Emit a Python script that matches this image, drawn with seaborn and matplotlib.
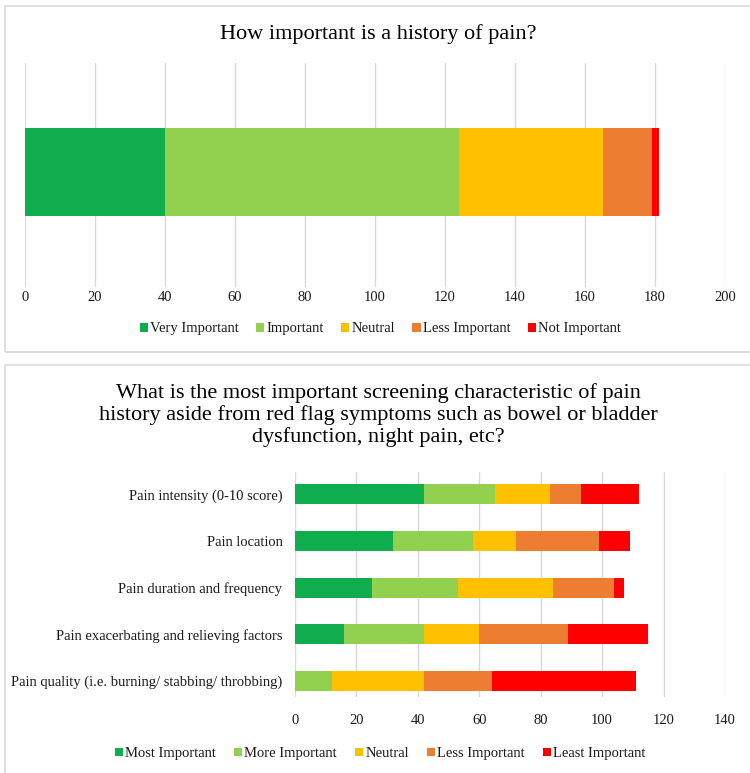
import numpy as np
import pandas as pd
import matplotlib
matplotlib.use("Agg")
import matplotlib.pyplot as plt
from matplotlib.patches import Patch, Rectangle
import seaborn as sns


# Top chart data: one stacked bar
HISTORY_LEVELS = ["Very Important", "Important", "Neutral", "Less Important", "Not Important"]
HISTORY_VALUES = [40, 84, 41, 14, 2]
HISTORY_ROW = ["History of pain"]

# Bottom chart data: five stacked bars
TRAIT_ROWS = [
    "Pain intensity (0-10 score)",
    "Pain location",
    "Pain duration and frequency",
    "Pain exacerbating and relieving factors",
    "Pain quality (i.e. burning/ stabbing/ throbbing)",
]
TRAIT_LEVELS = ["Most Important", "More Important", "Neutral", "Less Important", "Least Important"]
MOST_IMPORTANT = [42, 32, 25, 16, 0]
MORE_IMPORTANT = [23, 26, 28, 26, 12]
NEUTRAL = [18, 14, 31, 18, 30]
LESS_IMPORTANT = [10, 27, 20, 29, 22]
LEAST_IMPORTANT = [19, 10, 3, 26, 47]

# Excel-like palette
COLORS = ["#0FAD4E", "#92D050", "#FFC000", "#ED7D31", "#FF0000"]

TITLE_TOP = "How important is a history of pain?"
TITLE_BOTTOM = ("What is the most important screening characteristic of pain\n"
                "history aside from red flag symptoms such as bowel or bladder\n"
                "dysfunction, night pain, etc?")

GRID_COLOR = "#D9D9D9"
TEXT_COLOR = "#1A1A1A"


# Draw a stacked horizontal bar chart by overlaying cumulative sums
# (largest first so shorter segments sit on top)
def draw_stacked(ax, rows, segments, width):
    cumulative = np.cumsum(np.array(segments, dtype=float), axis=0)
    for level_idx in range(len(segments) - 1, -1, -1):
        frame = pd.DataFrame({"row": rows, "value": cumulative[level_idx]})
        sns.barplot(
            data=frame, x="value", y="row", order=rows, orient="h",
            color=COLORS[level_idx], saturation=1, width=width,
            errorbar=None, linewidth=0, ax=ax,
        )


def style_axis(ax, xmax, pad):
    ax.set_xlim(0, xmax)
    ax.set_xticks(np.arange(0, xmax + 1, 20))
    ax.set_xlabel("")
    ax.set_ylabel("")
    ax.grid(axis="x", color=GRID_COLOR, linewidth=1)
    ax.grid(axis="y", visible=False)
    ax.set_axisbelow(True)
    for spine in ax.spines.values():
        spine.set_visible(False)
    ax.tick_params(axis="both", length=0, labelsize=10.5, colors=TEXT_COLOR)
    ax.tick_params(axis="x", pad=pad)


def add_legend(fig, labels, y, spacing):
    handles = [Patch(facecolor=c, edgecolor="none") for c in COLORS]
    fig.legend(
        handles, labels, loc="center", bbox_to_anchor=(0.507, y), ncol=5,
        frameon=False, fontsize=10.5, handlelength=0.55, handleheight=0.55,
        handletextpad=0.15, columnspacing=spacing, labelcolor=TEXT_COLOR,
    )


def main():
    sns.set_theme(style="white")
    plt.rcParams["font.family"] = ["Liberation Serif", "DejaVu Serif"]

    fig = plt.figure(figsize=(7.5, 7.73), dpi=100)

    # Panel frames (run off the right edge like the source screenshot)
    fig.patches.append(Rectangle((0.0067, 0.5446), 1.3, 0.4476, transform=fig.transFigure,
                                 fill=False, edgecolor=GRID_COLOR, linewidth=1.2))
    fig.patches.append(Rectangle((0.0067, -0.05), 1.3, 0.5778, transform=fig.transFigure,
                                 fill=False, edgecolor=GRID_COLOR, linewidth=1.2))

    # Top chart
    ax_top = fig.add_axes([0.0333, 0.6287, 0.9334, 0.2898])
    draw_stacked(ax_top, HISTORY_ROW, [[v] for v in HISTORY_VALUES], 0.393)
    style_axis(ax_top, 200, 3)
    ax_top.set_ylim(0.513, -0.487)
    ax_top.set_yticks([])
    fig.text(0.504, 0.9495, TITLE_TOP, ha="center", va="baseline", fontsize=16, color="black")
    add_legend(fig, HISTORY_LEVELS, 0.5745, 1.2)

    # Bottom chart
    ax_bot = fig.add_axes([0.3933, 0.0983, 0.5733, 0.2911])
    segments = [MOST_IMPORTANT, MORE_IMPORTANT, NEUTRAL, LESS_IMPORTANT, LEAST_IMPORTANT]
    draw_stacked(ax_bot, TRAIT_ROWS, segments, 0.43)
    style_axis(ax_bot, 140, 12)
    ax_bot.set_ylim(4.34, -0.48)
    ax_bot.tick_params(axis="y", pad=9)
    fig.text(0.504, 0.463, TITLE_BOTTOM, ha="center", va="center", fontsize=16,
             color="black", linespacing=1.15)
    add_legend(fig, TRAIT_LEVELS, 0.025, 1.25)

    fig.savefig("out.png", dpi=100)


if __name__ == "__main__":
    main()
